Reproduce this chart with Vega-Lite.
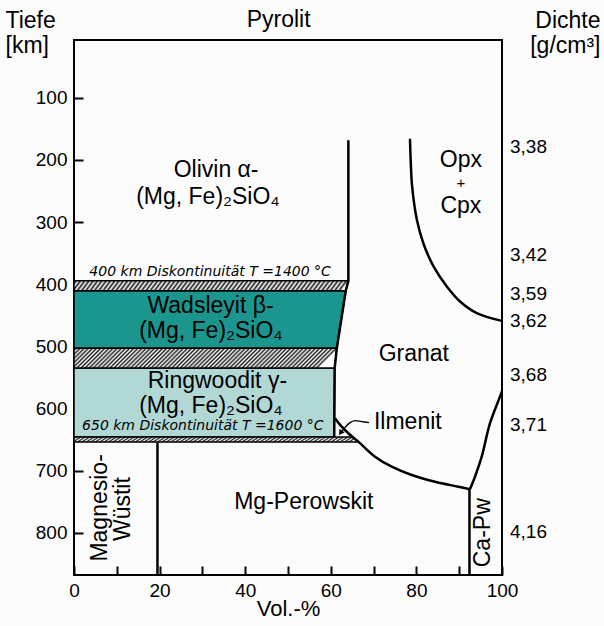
{
  "$schema": "https://vega.github.io/schema/vega-lite/v6.json",
  "width": 428,
  "height": 535,
  "autosize": {"type": "none"},
  "padding": {"left": 74, "top": 40, "right": 102, "bottom": 51},
  "background": "#fcfcfc",
  "config": {
    "view": {"stroke": "#000", "strokeWidth": 2},
    "font": "Liberation Sans",
    "axis": {"domain": false, "grid": false, "tickColor": "#000", "tickWidth": 2, "labelColor": "#000", "titleColor": "#000", "labelFont": "Liberation Sans", "titleFont": "Liberation Sans", "labelFontSize": 19, "titleFontSize": 23, "titleFontWeight": "normal", "labelFlush": false, "labelOverlap": false, "labelBound": false}
  },
  "datasets": {
    "colored": [
      {"band": "wad", "d": 410.6, "x": 63.5}, {"band": "wad", "d": 503, "x": 61.4},
      {"band": "ring", "d": 535, "x": 60.9}, {"band": "ring", "d": 646, "x": 60.8}
    ],
    "hatchA": [
      {"band": "h1", "d": 394.5, "x": 64.1}, {"band": "h1", "d": 410.6, "x": 63.5},
      {"band": "h3", "d": 646, "x": 65.1}, {"band": "h3", "d": 654, "x": 66.5}
    ],
    "hatchB": [
      {"band": "h2", "d": 503, "x": 61.4}, {"band": "h2", "d": 535, "x": 60.9}
    ],
    "straight": [
      {"id": "a", "i": 0, "x": 64.1, "d": 168.4}, {"id": "a", "i": 1, "x": 64.1, "d": 394.5}, {"id": "a", "i": 2, "x": 63.5, "d": 410.6}, {"id": "a", "i": 3, "x": 61.4, "d": 503}, {"id": "a", "i": 4, "x": 60.9, "d": 535}, {"id": "a", "i": 5, "x": 60.8, "d": 646},
      {"id": "e", "i": 0, "x": 19.5, "d": 655}, {"id": "e", "i": 1, "x": 19.5, "d": 868},
      {"id": "f", "i": 0, "x": 92.4, "d": 730}, {"id": "f", "i": 1, "x": 92.4, "d": 868}
    ],
    "curves": [
      {"id": "b", "i": 0, "x": 60.98, "d": 615.7}, {"id": "b", "i": 1, "x": 62.38, "d": 628.1}, {"id": "b", "i": 2, "x": 64.09, "d": 639.9}, {"id": "b", "i": 3, "x": 66.43, "d": 653.4}, {"id": "b", "i": 4, "x": 70.33, "d": 677.6}, {"id": "b", "i": 5, "x": 74.23, "d": 693.7}, {"id": "b", "i": 6, "x": 78.9, "d": 707.1}, {"id": "b", "i": 7, "x": 84.35, "d": 717.9}, {"id": "b", "i": 8, "x": 89.79, "d": 725.9}, {"id": "b", "i": 9, "x": 92.5, "d": 730.1},
      {"id": "c", "i": 0, "x": 92.5, "d": 730.1}, {"id": "c", "i": 1, "x": 93.69, "d": 709.8}, {"id": "c", "i": 2, "x": 95.26, "d": 677.6}, {"id": "c", "i": 3, "x": 97.2, "d": 623.7}, {"id": "c", "i": 4, "x": 99.53, "d": 580.9}, {"id": "c", "i": 5, "x": 100, "d": 572},
      {"id": "d", "i": 0, "x": 78.5, "d": 166}, {"id": "d", "i": 1, "x": 78.7, "d": 207}, {"id": "d", "i": 2, "x": 79.0, "d": 242.5}, {"id": "d", "i": 3, "x": 80.1, "d": 296}, {"id": "d", "i": 4, "x": 81.6, "d": 333.7}, {"id": "d", "i": 5, "x": 84.0, "d": 371.4}, {"id": "d", "i": 6, "x": 87.1, "d": 403.6}, {"id": "d", "i": 7, "x": 90.2, "d": 427.8}, {"id": "d", "i": 8, "x": 94.1, "d": 446.5}, {"id": "d", "i": 9, "x": 100, "d": 459}
    ],
    "leader": [
      {"i": 0, "x": 68.93, "d": 622.8}, {"i": 1, "x": 67.22, "d": 621.2}, {"i": 2, "x": 65.65, "d": 619.6}, {"i": 3, "x": 64.49, "d": 622.8}, {"i": 4, "x": 63.48, "d": 629.2}, {"i": 5, "x": 62.7, "d": 636}
    ],
    "arrow": [{"x": 62.4, "d": 638}],
    "big": [
      {"t": "Olivin α-", "x": 33.2, "d": 215.8},
      {"t": "(Mg, Fe)₂SiO₄", "x": 31.3, "d": 259},
      {"t": "Wadsleyit β-", "x": 31.9, "d": 435.6},
      {"t": "(Mg, Fe)₂SiO₄", "x": 32, "d": 475.9},
      {"t": "Ringwoodit γ-", "x": 33.5, "d": 556.4},
      {"t": "(Mg, Fe)₂SiO₄", "x": 32, "d": 596.6},
      {"t": "Granat", "x": 79.4, "d": 512},
      {"t": "Opx", "x": 90.4, "d": 199.7},
      {"t": "Cpx", "x": 90.4, "d": 274.6},
      {"t": "Ilmenit", "x": 78.0, "d": 621.6},
      {"t": "Mg-Perowskit", "x": 53.7, "d": 750}
    ],
    "pyro": [{"t": "Pyrolit", "x": 47.8, "d": -13.9}],
    "plus": [{"t": "+", "x": 90.4, "d": 237.2}],
    "rot": [
      {"t": "Magnesio-", "x": 6.1, "d": 760},
      {"t": "Wüstit", "x": 11.5, "d": 762},
      {"t": "Ca-Pw", "x": 95.6, "d": 800}
    ],
    "ital": [
      {"t": "400 km Diskontinuität T =1400 °C", "x": 31.8, "d": 381},
      {"t": "650 km Diskontinuität T =1600 °C", "x": 30.1, "d": 629}
    ],
    "dichte": [
      {"t": "3,38", "d": 179}, {"t": "3,42", "d": 352.6}, {"t": "3,59", "d": 415.4}, {"t": "3,62", "d": 458.9}, {"t": "3,68", "d": 545.9}, {"t": "3,71", "d": 626.5}, {"t": "4,16", "d": 798}
    ]
  },
  "layer": [
    {
      "encoding": {
        "x": {"field": "x", "type": "quantitative", "scale": {"domain": [0, 100], "nice": false, "zero": false},
          "axis": {"values": [0, 10, 20, 30, 40, 50, 60, 70, 80, 90, 100], "labelExpr": "datum.value % 20 === 0 ? datum.label : ''", "tickSize": -9, "labelPadding": 15, "title": "Vol.-%", "titleFontSize": 22, "titleBaseline": "alphabetic", "titleY": 40}},
        "y": {"field": "d", "type": "quantitative", "scale": {"domain": [7, 868], "reverse": true, "nice": false, "zero": false},
          "axis": {"values": [100, 200, 300, 400, 500, 600, 700, 800], "tickSize": -9, "labelPadding": 16, "title": ["Tiefe", "[km]"], "titleAngle": 0, "titleAlign": "left", "titleBaseline": "alphabetic", "titleX": -69, "titleY": -13, "titleLineHeight": 25}}
      },
      "layer": [
        {
          "data": {"name": "colored"},
          "mark": {"type": "area", "orient": "horizontal", "stroke": "#000", "strokeWidth": 1.5},
          "encoding": {
            "x": {"field": "x", "type": "quantitative", "stack": null},
            "x2": {"datum": 0},
            "color": {"field": "band", "type": "nominal", "legend": null, "scale": {"domain": ["wad", "ring"], "range": ["#1a968f", "#b2d8d6"]}},
            "opacity": {"value": 1}
          }
        },
        {
          "data": {"name": "hatchA"},
          "mark": {"type": "area", "orient": "horizontal", "stroke": "#000", "strokeWidth": 1.5, "opacity": 1,
            "fill": {"gradient": "linear", "x1": 0, "y1": 0, "x2": 1, "y2": 0.027, "stops": [
              {"offset": 0, "color": "#fcfcfc"}, {"offset": 0.0078, "color": "#1e1e1e"}, {"offset": 0.0156, "color": "#fcfcfc"}, {"offset": 0.0234, "color": "#1e1e1e"}, {"offset": 0.0313, "color": "#fcfcfc"}, {"offset": 0.0391, "color": "#1e1e1e"}, {"offset": 0.0469, "color": "#fcfcfc"}, {"offset": 0.0547, "color": "#1e1e1e"}, {"offset": 0.0625, "color": "#fcfcfc"}, {"offset": 0.0703, "color": "#1e1e1e"}, {"offset": 0.0781, "color": "#fcfcfc"}, {"offset": 0.0859, "color": "#1e1e1e"}, {"offset": 0.0938, "color": "#fcfcfc"}, {"offset": 0.1016, "color": "#1e1e1e"}, {"offset": 0.1094, "color": "#fcfcfc"}, {"offset": 0.1172, "color": "#1e1e1e"},
              {"offset": 0.125, "color": "#fcfcfc"}, {"offset": 0.1328, "color": "#1e1e1e"}, {"offset": 0.1406, "color": "#fcfcfc"}, {"offset": 0.1484, "color": "#1e1e1e"}, {"offset": 0.1563, "color": "#fcfcfc"}, {"offset": 0.1641, "color": "#1e1e1e"}, {"offset": 0.1719, "color": "#fcfcfc"}, {"offset": 0.1797, "color": "#1e1e1e"}, {"offset": 0.1875, "color": "#fcfcfc"}, {"offset": 0.1953, "color": "#1e1e1e"}, {"offset": 0.2031, "color": "#fcfcfc"}, {"offset": 0.2109, "color": "#1e1e1e"}, {"offset": 0.2188, "color": "#fcfcfc"}, {"offset": 0.2266, "color": "#1e1e1e"}, {"offset": 0.2344, "color": "#fcfcfc"}, {"offset": 0.2422, "color": "#1e1e1e"},
              {"offset": 0.25, "color": "#fcfcfc"}, {"offset": 0.2578, "color": "#1e1e1e"}, {"offset": 0.2656, "color": "#fcfcfc"}, {"offset": 0.2734, "color": "#1e1e1e"}, {"offset": 0.2813, "color": "#fcfcfc"}, {"offset": 0.2891, "color": "#1e1e1e"}, {"offset": 0.2969, "color": "#fcfcfc"}, {"offset": 0.3047, "color": "#1e1e1e"}, {"offset": 0.3125, "color": "#fcfcfc"}, {"offset": 0.3203, "color": "#1e1e1e"}, {"offset": 0.3281, "color": "#fcfcfc"}, {"offset": 0.3359, "color": "#1e1e1e"}, {"offset": 0.3438, "color": "#fcfcfc"}, {"offset": 0.3516, "color": "#1e1e1e"}, {"offset": 0.3594, "color": "#fcfcfc"}, {"offset": 0.3672, "color": "#1e1e1e"},
              {"offset": 0.375, "color": "#fcfcfc"}, {"offset": 0.3828, "color": "#1e1e1e"}, {"offset": 0.3906, "color": "#fcfcfc"}, {"offset": 0.3984, "color": "#1e1e1e"}, {"offset": 0.4063, "color": "#fcfcfc"}, {"offset": 0.4141, "color": "#1e1e1e"}, {"offset": 0.4219, "color": "#fcfcfc"}, {"offset": 0.4297, "color": "#1e1e1e"}, {"offset": 0.4375, "color": "#fcfcfc"}, {"offset": 0.4453, "color": "#1e1e1e"}, {"offset": 0.4531, "color": "#fcfcfc"}, {"offset": 0.4609, "color": "#1e1e1e"}, {"offset": 0.4688, "color": "#fcfcfc"}, {"offset": 0.4766, "color": "#1e1e1e"}, {"offset": 0.4844, "color": "#fcfcfc"}, {"offset": 0.4922, "color": "#1e1e1e"},
              {"offset": 0.5, "color": "#fcfcfc"}, {"offset": 0.5078, "color": "#1e1e1e"}, {"offset": 0.5156, "color": "#fcfcfc"}, {"offset": 0.5234, "color": "#1e1e1e"}, {"offset": 0.5313, "color": "#fcfcfc"}, {"offset": 0.5391, "color": "#1e1e1e"}, {"offset": 0.5469, "color": "#fcfcfc"}, {"offset": 0.5547, "color": "#1e1e1e"}, {"offset": 0.5625, "color": "#fcfcfc"}, {"offset": 0.5703, "color": "#1e1e1e"}, {"offset": 0.5781, "color": "#fcfcfc"}, {"offset": 0.5859, "color": "#1e1e1e"}, {"offset": 0.5938, "color": "#fcfcfc"}, {"offset": 0.6016, "color": "#1e1e1e"}, {"offset": 0.6094, "color": "#fcfcfc"}, {"offset": 0.6172, "color": "#1e1e1e"},
              {"offset": 0.625, "color": "#fcfcfc"}, {"offset": 0.6328, "color": "#1e1e1e"}, {"offset": 0.6406, "color": "#fcfcfc"}, {"offset": 0.6484, "color": "#1e1e1e"}, {"offset": 0.6563, "color": "#fcfcfc"}, {"offset": 0.6641, "color": "#1e1e1e"}, {"offset": 0.6719, "color": "#fcfcfc"}, {"offset": 0.6797, "color": "#1e1e1e"}, {"offset": 0.6875, "color": "#fcfcfc"}, {"offset": 0.6953, "color": "#1e1e1e"}, {"offset": 0.7031, "color": "#fcfcfc"}, {"offset": 0.7109, "color": "#1e1e1e"}, {"offset": 0.7188, "color": "#fcfcfc"}, {"offset": 0.7266, "color": "#1e1e1e"}, {"offset": 0.7344, "color": "#fcfcfc"}, {"offset": 0.7422, "color": "#1e1e1e"},
              {"offset": 0.75, "color": "#fcfcfc"}, {"offset": 0.7578, "color": "#1e1e1e"}, {"offset": 0.7656, "color": "#fcfcfc"}, {"offset": 0.7734, "color": "#1e1e1e"}, {"offset": 0.7813, "color": "#fcfcfc"}, {"offset": 0.7891, "color": "#1e1e1e"}, {"offset": 0.7969, "color": "#fcfcfc"}, {"offset": 0.8047, "color": "#1e1e1e"}, {"offset": 0.8125, "color": "#fcfcfc"}, {"offset": 0.8203, "color": "#1e1e1e"}, {"offset": 0.8281, "color": "#fcfcfc"}, {"offset": 0.8359, "color": "#1e1e1e"}, {"offset": 0.8438, "color": "#fcfcfc"}, {"offset": 0.8516, "color": "#1e1e1e"}, {"offset": 0.8594, "color": "#fcfcfc"}, {"offset": 0.8672, "color": "#1e1e1e"},
              {"offset": 0.875, "color": "#fcfcfc"}, {"offset": 0.8828, "color": "#1e1e1e"}, {"offset": 0.8906, "color": "#fcfcfc"}, {"offset": 0.8984, "color": "#1e1e1e"}, {"offset": 0.9063, "color": "#fcfcfc"}, {"offset": 0.9141, "color": "#1e1e1e"}, {"offset": 0.9219, "color": "#fcfcfc"}, {"offset": 0.9297, "color": "#1e1e1e"}, {"offset": 0.9375, "color": "#fcfcfc"}, {"offset": 0.9453, "color": "#1e1e1e"}, {"offset": 0.9531, "color": "#fcfcfc"}, {"offset": 0.9609, "color": "#1e1e1e"}, {"offset": 0.9688, "color": "#fcfcfc"}, {"offset": 0.9766, "color": "#1e1e1e"}, {"offset": 0.9844, "color": "#fcfcfc"}, {"offset": 0.9922, "color": "#1e1e1e"},
              {"offset": 1, "color": "#fcfcfc"}
            ]}},
          "encoding": {
            "x": {"field": "x", "type": "quantitative", "stack": null},
            "x2": {"datum": 0},
            "detail": {"field": "band"}
          }
        },
        {
          "data": {"name": "hatchB"},
          "mark": {"type": "area", "orient": "horizontal", "stroke": "#000", "strokeWidth": 1.5, "opacity": 1,
            "fill": {"gradient": "linear", "x1": 0, "y1": 0, "x2": 1, "y2": 0.0757, "stops": [
              {"offset": 0, "color": "#fcfcfc"}, {"offset": 0.0078, "color": "#1e1e1e"}, {"offset": 0.0156, "color": "#fcfcfc"}, {"offset": 0.0234, "color": "#1e1e1e"}, {"offset": 0.0313, "color": "#fcfcfc"}, {"offset": 0.0391, "color": "#1e1e1e"}, {"offset": 0.0469, "color": "#fcfcfc"}, {"offset": 0.0547, "color": "#1e1e1e"}, {"offset": 0.0625, "color": "#fcfcfc"}, {"offset": 0.0703, "color": "#1e1e1e"}, {"offset": 0.0781, "color": "#fcfcfc"}, {"offset": 0.0859, "color": "#1e1e1e"}, {"offset": 0.0938, "color": "#fcfcfc"}, {"offset": 0.1016, "color": "#1e1e1e"}, {"offset": 0.1094, "color": "#fcfcfc"}, {"offset": 0.1172, "color": "#1e1e1e"},
              {"offset": 0.125, "color": "#fcfcfc"}, {"offset": 0.1328, "color": "#1e1e1e"}, {"offset": 0.1406, "color": "#fcfcfc"}, {"offset": 0.1484, "color": "#1e1e1e"}, {"offset": 0.1563, "color": "#fcfcfc"}, {"offset": 0.1641, "color": "#1e1e1e"}, {"offset": 0.1719, "color": "#fcfcfc"}, {"offset": 0.1797, "color": "#1e1e1e"}, {"offset": 0.1875, "color": "#fcfcfc"}, {"offset": 0.1953, "color": "#1e1e1e"}, {"offset": 0.2031, "color": "#fcfcfc"}, {"offset": 0.2109, "color": "#1e1e1e"}, {"offset": 0.2188, "color": "#fcfcfc"}, {"offset": 0.2266, "color": "#1e1e1e"}, {"offset": 0.2344, "color": "#fcfcfc"}, {"offset": 0.2422, "color": "#1e1e1e"},
              {"offset": 0.25, "color": "#fcfcfc"}, {"offset": 0.2578, "color": "#1e1e1e"}, {"offset": 0.2656, "color": "#fcfcfc"}, {"offset": 0.2734, "color": "#1e1e1e"}, {"offset": 0.2813, "color": "#fcfcfc"}, {"offset": 0.2891, "color": "#1e1e1e"}, {"offset": 0.2969, "color": "#fcfcfc"}, {"offset": 0.3047, "color": "#1e1e1e"}, {"offset": 0.3125, "color": "#fcfcfc"}, {"offset": 0.3203, "color": "#1e1e1e"}, {"offset": 0.3281, "color": "#fcfcfc"}, {"offset": 0.3359, "color": "#1e1e1e"}, {"offset": 0.3438, "color": "#fcfcfc"}, {"offset": 0.3516, "color": "#1e1e1e"}, {"offset": 0.3594, "color": "#fcfcfc"}, {"offset": 0.3672, "color": "#1e1e1e"},
              {"offset": 0.375, "color": "#fcfcfc"}, {"offset": 0.3828, "color": "#1e1e1e"}, {"offset": 0.3906, "color": "#fcfcfc"}, {"offset": 0.3984, "color": "#1e1e1e"}, {"offset": 0.4063, "color": "#fcfcfc"}, {"offset": 0.4141, "color": "#1e1e1e"}, {"offset": 0.4219, "color": "#fcfcfc"}, {"offset": 0.4297, "color": "#1e1e1e"}, {"offset": 0.4375, "color": "#fcfcfc"}, {"offset": 0.4453, "color": "#1e1e1e"}, {"offset": 0.4531, "color": "#fcfcfc"}, {"offset": 0.4609, "color": "#1e1e1e"}, {"offset": 0.4688, "color": "#fcfcfc"}, {"offset": 0.4766, "color": "#1e1e1e"}, {"offset": 0.4844, "color": "#fcfcfc"}, {"offset": 0.4922, "color": "#1e1e1e"},
              {"offset": 0.5, "color": "#fcfcfc"}, {"offset": 0.5078, "color": "#1e1e1e"}, {"offset": 0.5156, "color": "#fcfcfc"}, {"offset": 0.5234, "color": "#1e1e1e"}, {"offset": 0.5313, "color": "#fcfcfc"}, {"offset": 0.5391, "color": "#1e1e1e"}, {"offset": 0.5469, "color": "#fcfcfc"}, {"offset": 0.5547, "color": "#1e1e1e"}, {"offset": 0.5625, "color": "#fcfcfc"}, {"offset": 0.5703, "color": "#1e1e1e"}, {"offset": 0.5781, "color": "#fcfcfc"}, {"offset": 0.5859, "color": "#1e1e1e"}, {"offset": 0.5938, "color": "#fcfcfc"}, {"offset": 0.6016, "color": "#1e1e1e"}, {"offset": 0.6094, "color": "#fcfcfc"}, {"offset": 0.6172, "color": "#1e1e1e"},
              {"offset": 0.625, "color": "#fcfcfc"}, {"offset": 0.6328, "color": "#1e1e1e"}, {"offset": 0.6406, "color": "#fcfcfc"}, {"offset": 0.6484, "color": "#1e1e1e"}, {"offset": 0.6563, "color": "#fcfcfc"}, {"offset": 0.6641, "color": "#1e1e1e"}, {"offset": 0.6719, "color": "#fcfcfc"}, {"offset": 0.6797, "color": "#1e1e1e"}, {"offset": 0.6875, "color": "#fcfcfc"}, {"offset": 0.6953, "color": "#1e1e1e"}, {"offset": 0.7031, "color": "#fcfcfc"}, {"offset": 0.7109, "color": "#1e1e1e"}, {"offset": 0.7188, "color": "#fcfcfc"}, {"offset": 0.7266, "color": "#1e1e1e"}, {"offset": 0.7344, "color": "#fcfcfc"}, {"offset": 0.7422, "color": "#1e1e1e"},
              {"offset": 0.75, "color": "#fcfcfc"}, {"offset": 0.7578, "color": "#1e1e1e"}, {"offset": 0.7656, "color": "#fcfcfc"}, {"offset": 0.7734, "color": "#1e1e1e"}, {"offset": 0.7813, "color": "#fcfcfc"}, {"offset": 0.7891, "color": "#1e1e1e"}, {"offset": 0.7969, "color": "#fcfcfc"}, {"offset": 0.8047, "color": "#1e1e1e"}, {"offset": 0.8125, "color": "#fcfcfc"}, {"offset": 0.8203, "color": "#1e1e1e"}, {"offset": 0.8281, "color": "#fcfcfc"}, {"offset": 0.8359, "color": "#1e1e1e"}, {"offset": 0.8438, "color": "#fcfcfc"}, {"offset": 0.8516, "color": "#1e1e1e"}, {"offset": 0.8594, "color": "#fcfcfc"}, {"offset": 0.8672, "color": "#1e1e1e"},
              {"offset": 0.875, "color": "#fcfcfc"}, {"offset": 0.8828, "color": "#1e1e1e"}, {"offset": 0.8906, "color": "#fcfcfc"}, {"offset": 0.8984, "color": "#1e1e1e"}, {"offset": 0.9063, "color": "#fcfcfc"}, {"offset": 0.9141, "color": "#1e1e1e"}, {"offset": 0.9219, "color": "#fcfcfc"}, {"offset": 0.9297, "color": "#1e1e1e"}, {"offset": 0.9375, "color": "#fcfcfc"}, {"offset": 0.9453, "color": "#1e1e1e"}, {"offset": 0.9531, "color": "#fcfcfc"}, {"offset": 0.9609, "color": "#1e1e1e"}, {"offset": 0.9688, "color": "#fcfcfc"}, {"offset": 0.9766, "color": "#1e1e1e"}, {"offset": 0.9844, "color": "#fcfcfc"}, {"offset": 0.9922, "color": "#1e1e1e"},
              {"offset": 1, "color": "#fcfcfc"}
            ]}},
          "encoding": {
            "x": {"field": "x", "type": "quantitative", "stack": null},
            "x2": {"datum": 0},
            "detail": {"field": "band"}
          }
        },
        {
          "data": {"name": "straight"},
          "mark": {"type": "line", "color": "#000", "strokeWidth": 2.5},
          "encoding": {"detail": {"field": "id"}, "order": {"field": "i", "type": "quantitative"}}
        },
        {
          "data": {"name": "curves"},
          "mark": {"type": "line", "color": "#000", "strokeWidth": 2.5, "interpolate": "catmull-rom"},
          "encoding": {"detail": {"field": "id"}, "order": {"field": "i", "type": "quantitative"}}
        },
        {
          "data": {"name": "leader"},
          "mark": {"type": "line", "color": "#000", "strokeWidth": 1.4, "interpolate": "catmull-rom"},
          "encoding": {"order": {"field": "i", "type": "quantitative"}}
        },
        {
          "data": {"name": "arrow"},
          "mark": {"type": "point", "shape": "triangle", "filled": true, "color": "#000", "size": 40, "angle": 216, "opacity": 1}
        },
        {
          "data": {"name": "big"},
          "mark": {"type": "text", "fontSize": 23, "align": "center", "baseline": "middle", "color": "#000"},
          "encoding": {"text": {"field": "t"}}
        },
        {
          "data": {"name": "pyro"},
          "mark": {"type": "text", "fontSize": 23, "align": "center", "baseline": "alphabetic", "color": "#000"},
          "encoding": {"text": {"field": "t"}}
        },
        {
          "data": {"name": "plus"},
          "mark": {"type": "text", "fontSize": 15, "align": "center", "baseline": "middle", "color": "#000"},
          "encoding": {"text": {"field": "t"}}
        },
        {
          "data": {"name": "rot"},
          "mark": {"type": "text", "fontSize": 23, "align": "center", "baseline": "middle", "angle": 270, "color": "#000"},
          "encoding": {"text": {"field": "t"}}
        },
        {
          "data": {"name": "ital"},
          "mark": {"type": "text", "font": "DejaVu Sans", "fontSize": 14, "fontStyle": "italic", "align": "center", "baseline": "middle", "color": "#000"},
          "encoding": {"text": {"field": "t"}}
        }
      ]
    },
    {
      "data": {"name": "dichte"},
      "mark": {"type": "text", "fontSize": 19, "align": "left", "baseline": "middle", "dx": 8, "color": "#000"},
      "encoding": {
        "x": {"datum": 100, "type": "quantitative", "scale": {"domain": [0, 100], "nice": false, "zero": false}},
        "y": {"field": "d", "type": "quantitative", "scale": {"domain": [7, 868], "reverse": true, "nice": false, "zero": false},
          "axis": {"orient": "right", "labels": false, "ticks": false, "title": ["Dichte", "[g/cm³]"], "titleAngle": 0, "titleAlign": "right", "titleBaseline": "alphabetic", "titleX": 98, "titleY": -13, "titleLineHeight": 25}},
        "text": {"field": "t"}
      }
    }
  ],
  "resolve": {"axis": {"y": "independent"}}
}
